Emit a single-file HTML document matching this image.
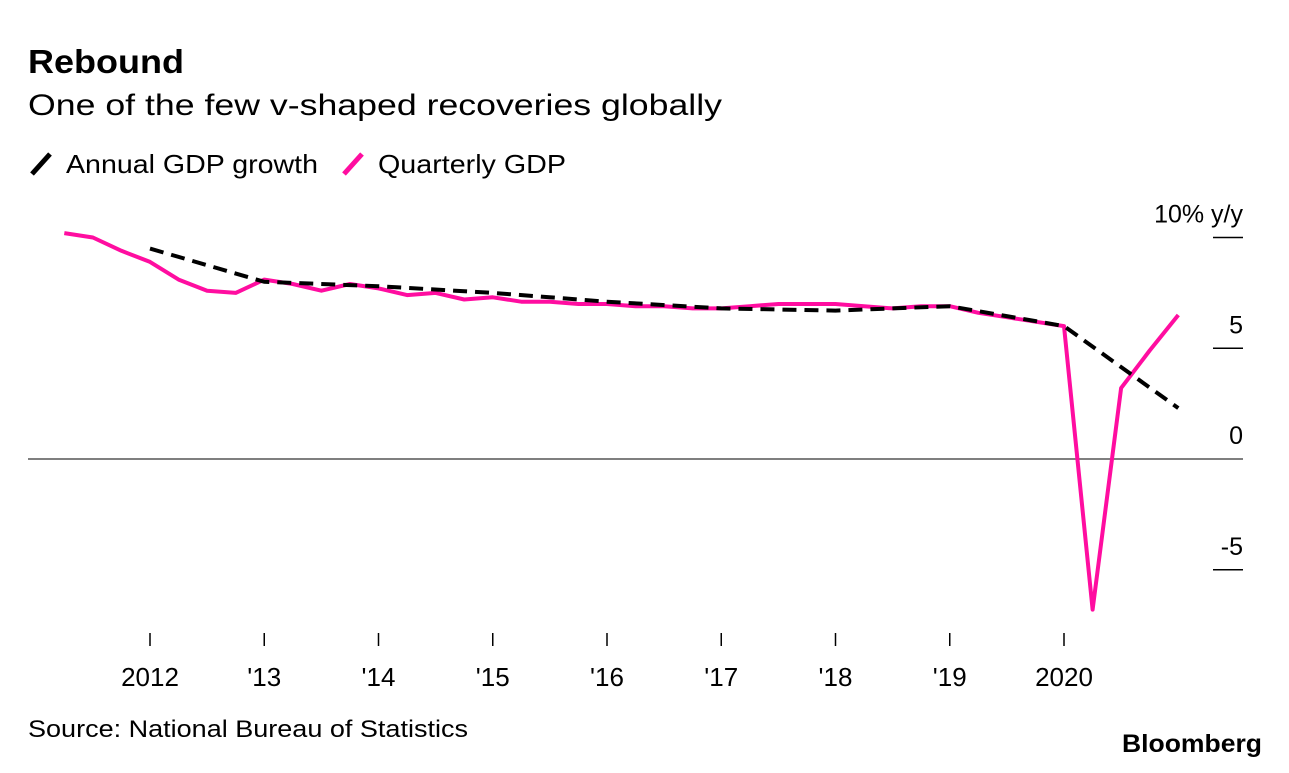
<!DOCTYPE html>
<html><head><meta charset="utf-8"><style>
body{margin:0;background:#fff;width:1289px;height:768px;overflow:hidden;font-family:"Liberation Sans",sans-serif}
</style></head><body>
<svg width="1289" height="768" xmlns="http://www.w3.org/2000/svg" font-family="Liberation Sans, sans-serif">
<text x="28" y="73" font-size="33" font-weight="bold" fill="#000" textLength="156" lengthAdjust="spacingAndGlyphs">Rebound</text>
<text x="28" y="115" font-size="30" fill="#000" textLength="694" lengthAdjust="spacingAndGlyphs">One of the few v-shaped recoveries globally</text>
<g>
<line x1="32" y1="174" x2="50" y2="154" stroke="#000" stroke-width="5"/>
<text x="66" y="173" font-size="26" textLength="252" lengthAdjust="spacingAndGlyphs">Annual GDP growth</text>
<line x1="344" y1="174" x2="362" y2="154" stroke="#ff0da0" stroke-width="5"/>
<text x="378" y="173" font-size="26" textLength="188" lengthAdjust="spacingAndGlyphs">Quarterly GDP</text>
</g>
<g id="axes"></g>
<g id="marks"></g>
<text x="28" y="737" font-size="24" textLength="440" lengthAdjust="spacingAndGlyphs">Source: National Bureau of Statistics</text>
<text x="1122" y="752" font-size="25" font-weight="bold" textLength="140" lengthAdjust="spacingAndGlyphs">Bloomberg</text>
</svg>
<script>
const yTicks=[10,5,0,-5];
const yTickLabels=["10% y/y","5","0","-5"];
const xTickYears=[2012,2013,2014,2015,2016,2017,2018,2019,2020];
const xTickLabels=["2012","'13","'14","'15","'16","'17","'18","'19","2020"];
const quarterly=[10.2,10.0,9.4,8.9, 8.1,7.6,7.5,8.1, 7.9,7.6,7.9,7.7, 7.4,7.5,7.2,7.3, 7.1,7.1,7.0,7.0, 6.9,6.9,6.8,6.8, 6.9,7.0,7.0,7.0, 6.9,6.8,6.9,6.9, 6.6,6.4,6.2,6.0, -6.8,3.2,4.9,6.5];
const quarterlyStart=2011.25;
const annualYears=[2011,2012,2013,2014,2015,2016,2017,2018,2019,2020];
const annual=[9.5,8.0,7.8,7.5,7.1,6.8,6.7,6.9,6.0,2.3];
const NS="http://www.w3.org/2000/svg";
const xS=t=>150+(t-2012)*114.25;
const yS=v=>459-v*22.15;
const axes=document.getElementById('axes'),marks=document.getElementById('marks');
function mk(tag,attrs,parent){const e=document.createElementNS(NS,tag);for(const k in attrs)e.setAttribute(k,attrs[k]);parent.appendChild(e);return e;}
yTicks.forEach((v,i)=>{
 if(v===0){const l=mk('line',{x1:28,x2:1243,y1:yS(0),y2:yS(0),stroke:'#555','stroke-width':1.5},axes);
  
  }
 else{const l=mk('line',{x1:1213,x2:1243,y1:yS(v),y2:yS(v),stroke:'#000','stroke-width':1.5},axes);
  
  }
 const t=mk('text',{x:1243,y:yS(v)-15,'font-size':25,'text-anchor':'end'},axes);t.textContent=yTickLabels[i];
 
 
});
xTickYears.forEach((yr,i)=>{
 const l=mk('line',{x1:xS(yr),x2:xS(yr),y1:633,y2:646,stroke:'#000','stroke-width':1.5},axes);
 
 
 const t=mk('text',{x:xS(yr),y:686,'font-size':26,'text-anchor':'middle'},axes);t.textContent=xTickLabels[i];
 
 
});
const qp=quarterly.map((v,i)=>xS(quarterlyStart+i*0.25).toFixed(1)+','+yS(v).toFixed(1)).join(' ');
const q=mk('polyline',{points:qp,fill:'none',stroke:'#ff0da0','stroke-width':4,'stroke-linejoin':'round'},marks);


const ap=annual.map((v,i)=>xS(annualYears[i]+1).toFixed(1)+','+yS(v).toFixed(1)).join(' ');
const a=mk('polyline',{points:ap,fill:'none',stroke:'#000','stroke-width':4,'stroke-dasharray':'14,8'},marks);


</script>
</body></html>
